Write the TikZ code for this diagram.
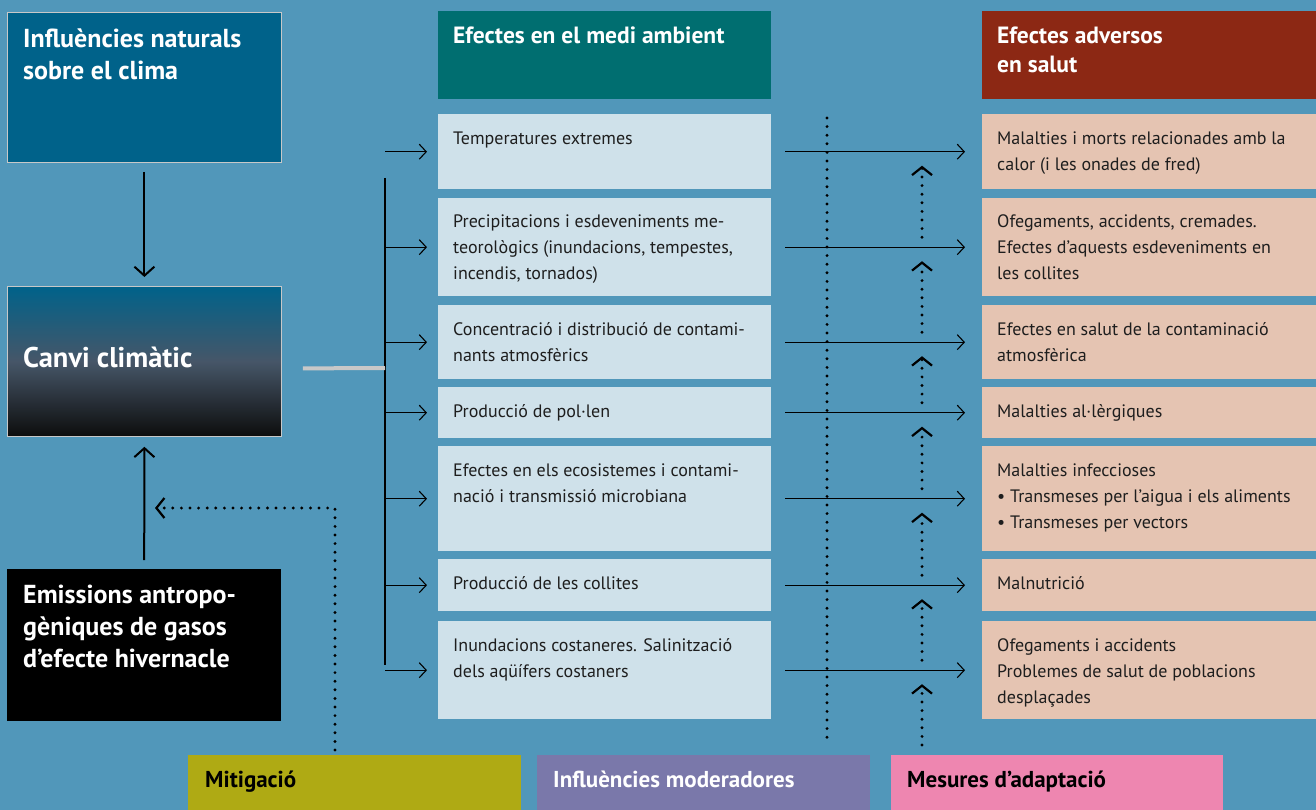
\documentclass[tikz,border=0pt]{standalone}
\usepackage{fontspec}
\setmainfont{PT Sans}
\usetikzlibrary{arrows.meta,calc,positioning}

\definecolor{bgblue}{RGB}{81,151,186}
\definecolor{natblue}{RGB}{0,98,138}
\definecolor{midgray}{RGB}{70,86,104}
\definecolor{tealhead}{RGB}{0,110,112}
\definecolor{redhead}{RGB}{140,40,20}
\definecolor{lightbox}{RGB}{207,225,234}
\definecolor{pinkbox}{RGB}{229,196,178}
\definecolor{olive}{RGB}{175,170,20}
\definecolor{lilac}{RGB}{122,120,170}
\definecolor{rose}{RGB}{238,134,176}
\definecolor{edgegray}{RGB}{200,200,200}
\definecolor{textdark}{RGB}{30,30,30}

% lines stacked from the first baseline down
\newcommand{\txtlines}[1]{\begin{tabular}[t]{@{}l@{}}#1\end{tabular}}

\begin{document}
\begin{tikzpicture}[x=1pt, y=-1pt,
    box/.style={rectangle, inner sep=0pt, anchor=north west},
    title/.style={inner sep=0pt, anchor=base west, text=white,
        font=\bfseries\fontsize{26}{32}\selectfont},
    head/.style={inner sep=0pt, anchor=base west, text=white,
        font=\bfseries\fontsize{23.5}{29}\selectfont},
    foot/.style={head, font=\bfseries\fontsize{23}{29}\selectfont},
    txt/.style={inner sep=0pt, anchor=base west, text=textdark,
        font=\fontsize{18}{26}\selectfont},
    arr/.style={line width=1.1pt, -{Straight Barb[length=7pt, width=15pt, line width=1.1pt]}},
    bigarr/.style={line width=2pt, -{Straight Barb[length=9pt, width=20pt, line width=2pt]}},
    dots/.style={line width=3.2pt, line cap=round, dash pattern=on 0pt off 8.6pt},
    dotarr/.style={dots, -{Straight Barb[length=8pt, width=20pt, line width=2.2pt, line cap=butt]}}
]
    % Background
    \fill[bgblue] (0,0) rectangle (1316,810);
    \useasboundingbox (0,0) rectangle (1316,810);

    % Left column
    \node[box, fill=natblue, draw=edgegray, line width=0.8pt, minimum width=274pt, minimum height=150pt] (nat) at (7,12) {};
    \node[box, top color=natblue, bottom color=black!95, middle color=midgray, draw=edgegray, line width=0.8pt,
        minimum width=274pt, minimum height=150pt] (canvi) at (7,286) {};
    \node[box, fill=black, minimum width=274pt, minimum height=152pt] (emis) at (7,569) {};

    \node[title] (natt) at ([xshift=16pt, yshift=-36pt]nat.north west) {\txtlines{Influències naturals\\sobre el clima}};
    \node[title, font=\bfseries\fontsize{28.5}{32}\selectfont] (canvit) at ([xshift=16pt, yshift=-81pt]canvi.north west) {Canvi climàtic};
    \node[title] (emist) at ([xshift=16pt, yshift=-34pt]emis.north west) {\txtlines{Emissions antropo-\\gèniques de gasos\\d’efecte hivernacle}};

    \draw[bigarr] ([yshift=-9pt]nat.south) -- ([yshift=9pt]canvi.north);
    \draw[bigarr] ([yshift=9pt]emis.north) -- ([yshift=-10pt]canvi.south);

    % Headers
    \node[box, fill=tealhead, minimum width=333pt, minimum height=88pt] (medi) at (438,11) {};
    \node[box, fill=redhead, minimum width=334pt, minimum height=88pt] (salut) at (982,11) {};
    \node[head] (medit) at ([xshift=15pt, yshift=-33pt]medi.north west) {Efectes en el medi ambient};
    \node[head] (salutt) at ([xshift=15pt, yshift=-33pt]salut.north west) {\txtlines{Efectes adversos\\en salut}};

    % Rows: middle and right boxes
    \foreach \i/\top/\h in {1/114/75, 2/198/98, 3/305/74, 4/387/51, 5/446/105, 6/559/52, 7/621/98} {
        \node[box, fill=lightbox, minimum width=333pt, minimum height=\h pt] (m\i) at (438,\top) {};
        \node[box, fill=pinkbox, minimum width=334pt, minimum height=\h pt] (h\i) at (982,\top) {};
    }

    \node[txt] (m1t) at ([xshift=15pt, yshift=-31pt]m1.north west) {Temperatures extremes};
    \node[txt] (m2t) at ([xshift=15pt, yshift=-30pt]m2.north west) {\txtlines{Precipitacions i esdeveniments me-\\teorològics (inundacions, tempestes,\\incendis, tornados)}};
    \node[txt] (m3t) at ([xshift=15pt, yshift=-30pt]m3.north west) {\txtlines{Concentració i distribució de contami-\\nants atmosfèrics}};
    \node[txt] (m4t) at ([xshift=15pt, yshift=-30pt]m4.north west) {Producció de pol·len};
    \node[txt] (m5t) at ([xshift=15pt, yshift=-30pt]m5.north west) {\txtlines{Efectes en els ecosistemes i contami-\\nació i transmissió microbiana}};
    \node[txt] (m6t) at ([xshift=15pt, yshift=-30pt]m6.north west) {Producció de les collites};
    \node[txt] (m7t) at ([xshift=15pt, yshift=-30pt]m7.north west) {\txtlines{Inundacions costaneres. Salinització\\dels aqüífers costaners}};

    \node[txt] (h1t) at ([xshift=15pt, yshift=-31pt]h1.north west) {\txtlines{Malalties i morts relacionades amb la\\calor (i les onades de fred)}};
    \node[txt] (h2t) at ([xshift=15pt, yshift=-30pt]h2.north west) {\txtlines{Ofegaments, accidents, cremades.\\Efectes d’aquests esdeveniments en\\les collites}};
    \node[txt] (h3t) at ([xshift=15pt, yshift=-30pt]h3.north west) {\txtlines{Efectes en salut de la contaminació\\atmosfèrica}};
    \node[txt] (h4t) at ([xshift=15pt, yshift=-30pt]h4.north west) {Malalties al·lèrgiques};
    \node[txt] (h5t) at ([xshift=15pt, yshift=-30pt]h5.north west) {\txtlines{Malalties infeccioses\\• Transmeses per l’aigua i els aliments\\• Transmeses per vectors}};
    \node[txt] (h6t) at ([xshift=15pt, yshift=-30pt]h6.north west) {Malnutrició};
    \node[txt] (h7t) at ([xshift=15pt, yshift=-30pt]h7.north west) {\txtlines{Ofegaments i accidents\\Problemes de salut de poblacions\\desplaçades}};

    % Bottom boxes
    \node[box, fill=olive, minimum width=333pt, minimum height=55pt] (mitig) at (188,755) {};
    \node[box, fill=lilac, minimum width=333pt, minimum height=55pt] (moder) at (537,755) {};
    \node[box, fill=rose, minimum width=332pt, minimum height=55pt] (adapt) at (891,755) {};
    \node[foot, text=black] (mitigt) at ([xshift=17pt, yshift=-32pt]mitig.north west) {Mitigació};
    \node[foot] (modert) at ([xshift=16pt, yshift=-32pt]moder.north west) {Influències moderadores};
    \node[foot, text=black] (adaptt) at ([xshift=16pt, yshift=-32pt]adapt.north west) {Mesures d’adaptació};

    % Bracket from climate change
    \coordinate (bt) at (385,178);
    \coordinate (bb) at (385,665);
    \coordinate (junc) at (385,368);
    \draw[line width=1.3pt] (bt) -- (bb);
    \draw[edgegray, line width=4pt] ([xshift=21pt, yshift=-7pt]canvi.east) -- (junc);

    % Arrows
    \foreach \i in {1,...,7} {
        \draw[arr] (m\i.west -| bt) -- ([xshift=-11pt]m\i.west);
        \draw[arr] ([xshift=14pt]m\i.east) -- ([xshift=-17pt]h\i.west);
    }

    % Moderating influences
    \coordinate (modtop) at (827,118);
    \coordinate (modbot) at (827,745);
    \draw[dots] (modtop) -- (modbot);

    % Adaptation
    \coordinate (ad) at (922,0);
    \coordinate (adbot) at (922,745);
    \foreach \i/\j in {1/2, 2/3, 3/4, 4/5, 5/6, 6/7} {
        \draw[dotarr] ($(h\j.west -| ad)+(0,-10)$) -- ($(h\i.west -| ad)+(0,14)$);
    }
    \draw[dotarr] (adbot) -- ($(h7.west -| ad)+(0,14)$);

    % Mitigation
    \coordinate (mitbot) at (335,750);
    \coordinate (mittip) at (155,508);
    \draw[dotarr] (mitbot) |- (mittip);
\end{tikzpicture}
\end{document}
